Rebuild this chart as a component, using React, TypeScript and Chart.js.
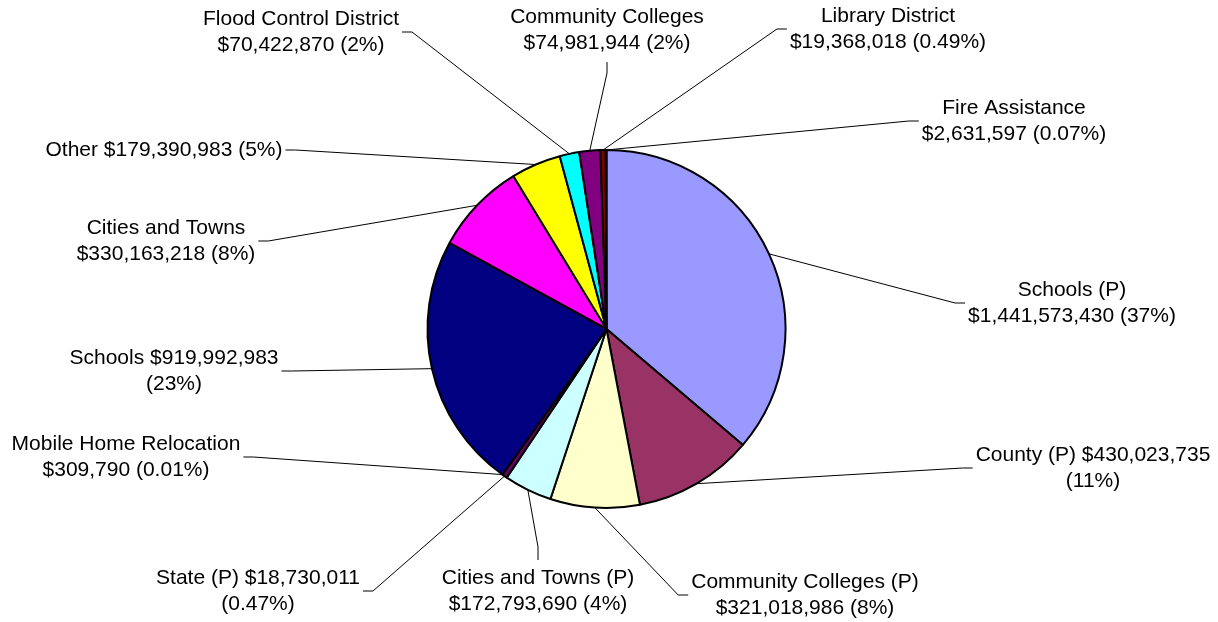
import React, { useEffect, useRef } from "react";
import { Chart, registerables } from "chart.js";

Chart.register(...registerables);

// ---- Data ----
const categories = [
  "Schools (P)",
  "County (P)",
  "Community Colleges (P)",
  "Cities and Towns (P)",
  "State (P)",
  "Mobile Home Relocation",
  "Schools",
  "Cities and Towns",
  "Other",
  "Flood Control District",
  "Community Colleges",
  "Library District",
  "Fire Assistance",
];

const values = [
  1441573430, 430023735, 321018986, 172793690, 18730011, 309790, 919992983,
  330163218, 179390983, 70422870, 74981944, 19368018, 2631597,
];

const percentLabels = [
  "37%", "11%", "8%", "4%", "0.47%", "0.01%", "23%", "8%", "5%", "2%", "2%", "0.49%", "0.07%",
];

// where each label wraps: "name" = name / value (pct), "pct" = name value / (pct), "none" = one line
const labelBreaks = [
  "name", "pct", "name", "name", "pct", "name", "pct", "name", "none", "name", "name", "name", "name",
];

const sliceColors = [
  "#9999FF", "#993366", "#FFFFCC", "#CCFFFF", "#660066", "#FF8080", "#000080",
  "#FF00FF", "#FFFF00", "#00FFFF", "#800080", "#800000", "#008080",
];

// ---- Layout of the labels (block centre, side of pie) ----
const labelPlacements = [
  { cx: 1072, cy: 303, side: "right" },
  { cx: 1093, cy: 468, side: "right" },
  { cx: 805, cy: 595, side: "right" },
  { cx: 538, cy: 591, side: "bottom" },
  { cx: 258, cy: 591, side: "left" },
  { cx: 126, cy: 457, side: "left" },
  { cx: 174, cy: 371, side: "left" },
  { cx: 166, cy: 241, side: "left" },
  { cx: 164, cy: 150, side: "left" },
  { cx: 301, cy: 32, side: "left" },
  { cx: 607, cy: 30, side: "top" },
  { cx: 888, cy: 29, side: "right" },
  { cx: 1014, cy: 121, side: "right" },
];

const FONT = '21px "Liberation Sans", Arial, sans-serif';
const LINE_H = 26;

function labelLines(i: number): string[] {
  const name = categories[i];
  const val = "$" + values[i].toLocaleString("en-US");
  const pct = "(" + percentLabels[i] + ")";
  const b = labelBreaks[i];
  if (b === "name") return [name, val + " " + pct];
  if (b === "pct") return [name + " " + val, pct];
  return [name + " " + val + " " + pct];
}

const outsideLabels = {
  id: "outsideLabels",
  afterDatasetsDraw(chart: any) {
    const ctx = chart.ctx as CanvasRenderingContext2D;
    const meta = chart.getDatasetMeta(0);
    ctx.save();
    ctx.font = FONT;
    ctx.fillStyle = "#000";
    ctx.strokeStyle = "#000";
    ctx.lineWidth = 1;
    ctx.textAlign = "center";
    ctx.textBaseline = "middle";
    meta.data.forEach((arc: any, i: number) => {
      const p = arc.getProps(["x", "y", "startAngle", "endAngle", "outerRadius"], true);
      const mid = (p.startAngle + p.endAngle) / 2;
      const ax = p.x + Math.cos(mid) * p.outerRadius;
      const ay = p.y + Math.sin(mid) * p.outerRadius;
      const pl = labelPlacements[i];
      const lines = labelLines(i);
      const w = Math.max(...lines.map((l) => ctx.measureText(l).width));
      const h = lines.length * LINE_H;
      let tx = 0, ty = 0, ex = 0, ey = 0;
      if (pl.side === "right") {
        tx = pl.cx - w / 2 - 3; ty = pl.cy; ex = tx - 10; ey = ty;
      } else if (pl.side === "left") {
        tx = pl.cx + w / 2 + 3; ty = pl.cy; ex = tx + 10; ey = ty;
      } else if (pl.side === "top") {
        tx = pl.cx; ty = pl.cy + h / 2 + 6; ex = tx; ey = ty + 11;
      } else {
        tx = pl.cx; ty = pl.cy - h / 2 - 5; ex = tx; ey = ty - 13;
      }
      ctx.beginPath();
      ctx.moveTo(ax, ay);
      ctx.lineTo(ex, ey);
      ctx.lineTo(tx, ty);
      ctx.stroke();
      lines.forEach((l, k) => {
        const yy = pl.cy - h / 2 + LINE_H / 2 + k * LINE_H;
        ctx.fillText(l, pl.cx, yy);
      });
    });
    ctx.restore();
  },
};

export default function App() {
  const ref = useRef<HTMLCanvasElement | null>(null);
  useEffect(() => {
    if (!ref.current) return;
    const chart = new Chart(ref.current, {
      type: "pie",
      data: {
        labels: categories,
        datasets: [
          {
            data: values,
            backgroundColor: sliceColors,
            borderColor: "#000000",
            borderWidth: 2,
            radius: 179,
          } as any,
        ],
      },
      options: {
        responsive: false,
        animation: false,
        layout: { padding: { left: 0, right: 5, top: 36, bottom: 0 } },
        plugins: {
          legend: { display: false },
          tooltip: { enabled: false },
          title: { display: false },
        },
      },
      plugins: [outsideLabels],
    });
    return () => chart.destroy();
  }, []);
  return (
    <div style={{ position: "fixed", left: 0, top: 0, width: 1218, height: 622, background: "#fff" }}>
      <canvas ref={ref} width={1218} height={622} style={{ display: "block" }} />
    </div>
  );
}
